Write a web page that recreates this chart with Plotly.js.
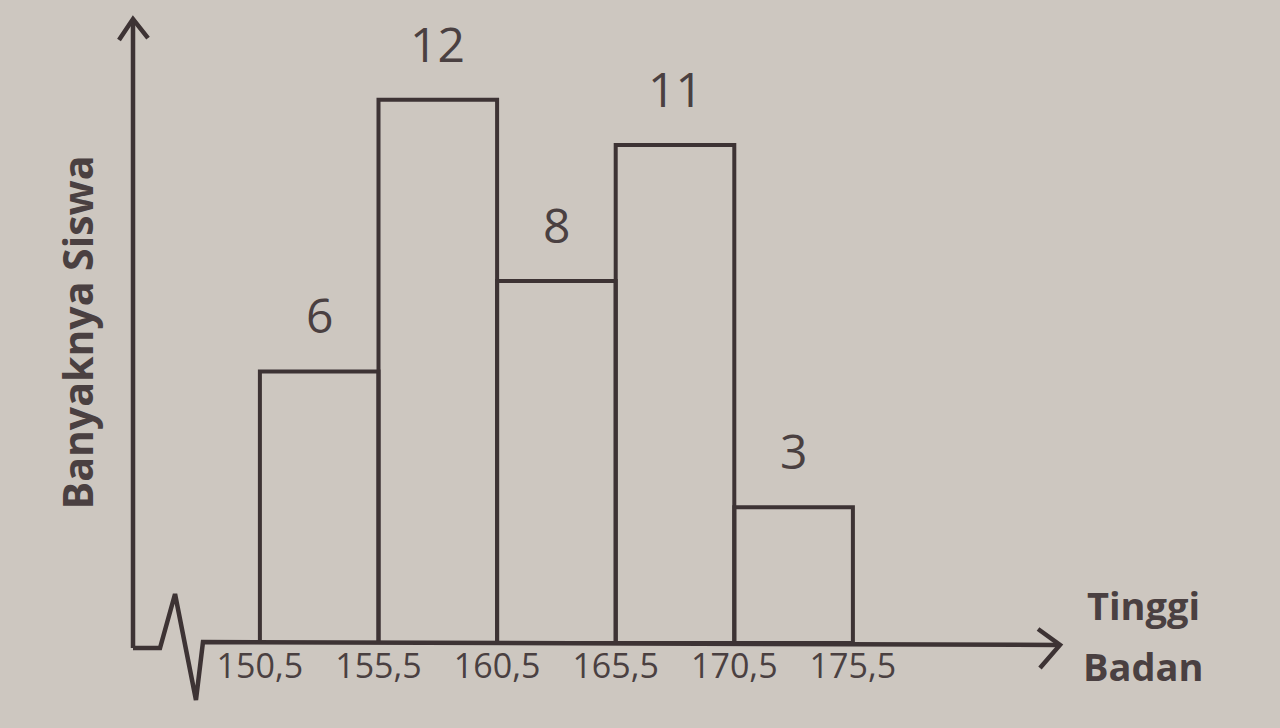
<!DOCTYPE html>
<html>
<head>
<meta charset="utf-8">
<script src="https://cdn.plot.ly/plotly-3.0.1.min.js"></script>
<style>
  html, body { margin: 0; padding: 0; background: #cdc7c0; }
  #chart { width: 1280px; height: 728px; }
</style>
</head>
<body>
<div id="chart"></div>
<script>
// ---- data ----
const classEdges = [150.5, 155.5, 160.5, 165.5, 170.5, 175.5];
const studentCounts = [6, 12, 8, 11, 3];
const tickLabels = ["150,5", "155,5", "160,5", "165,5", "170,5", "175,5"];
const yTitle = "Banyaknya Siswa";
const xTitleLines = ["Tinggi", "Badan"];

// ---- derived ----
const mids = studentCounts.map((_, i) => (classEdges[i] + classEdges[i + 1]) / 2);
const widths = studentCounts.map((_, i) => classEdges[i + 1] - classEdges[i]);

const ink = "#3d3334";
const textInk = "#4a4041";
const bg = "#cdc7c0";
const font = "Open Sans, Noto Sans, sans-serif";

// pixel -> paper helpers for the decorative axis drawing
const L = 133, R = 1055, T = 22, B = 643;
const px = x => (x - L) / (R - L);
const py = y => (B - y) / (B - T);
const pt = (x, y) => px(x).toFixed(4) + "," + py(y).toFixed(4);

const trace = {
  type: "bar",
  x: mids,
  y: studentCounts,
  width: widths,
  marker: { color: "rgba(0,0,0,0)", line: { color: ink, width: 4 } },
  hoverinfo: "x+y",
  showlegend: false
};

const annotations = studentCounts.map((c, i) => ({
  x: mids[i], y: c, xref: "x", yref: "y",
  text: String(c), showarrow: false,
  yanchor: "bottom", yshift: 22,
  font: { family: font, size: 48, color: textInk }
}));

annotations.push({
  xref: "paper", yref: "paper", x: px(1143), y: py(605),
  text: xTitleLines[0], showarrow: false, xanchor: "center", yanchor: "middle",
  font: { family: font, size: 38, color: textInk, weight: 700 }
});
annotations.push({
  xref: "paper", yref: "paper", x: px(1143), y: py(666),
  text: xTitleLines[1], showarrow: false, xanchor: "center", yanchor: "middle",
  font: { family: font, size: 38, color: textInk, weight: 700 }
});

const lineStyle = { color: ink, width: 4.5 };
const shapes = [
  // y axis
  { type: "path", xref: "paper", yref: "paper", path: "M" + pt(133, 648) + " L" + pt(133, 20), line: lineStyle },
  // y arrow head
  { type: "path", xref: "paper", yref: "paper", path: "M" + pt(119, 40) + " L" + pt(133, 19) + " L" + pt(148, 38), line: lineStyle },
  // bottom with break zigzag and x axis
  { type: "path", xref: "paper", yref: "paper",
    path: "M" + pt(133, 648) + " L" + pt(160, 648) + " L" + pt(175, 594) + " L" + pt(196, 700) + " L" + pt(203, 642) + " L" + pt(1058, 645),
    line: lineStyle },
  // x arrow head
  { type: "path", xref: "paper", yref: "paper", path: "M" + pt(1038, 629) + " L" + pt(1060, 645) + " L" + pt(1040, 668), line: lineStyle }
];

const layout = {
  width: 1280, height: 728,
  paper_bgcolor: bg, plot_bgcolor: bg,
  margin: { l: L, r: 1280 - R, t: T, b: 728 - B, pad: 0 },
  showlegend: false,
  xaxis: {
    range: [145.15, 184.02],
    tickvals: classEdges, ticktext: tickLabels,
    ticks: "", showgrid: false, zeroline: false, showline: false,
    tickfont: { family: font, size: 34, color: textInk },
    automargin: false
  },
  yaxis: {
    range: [0, 13.72],
    showticklabels: false, showgrid: false, zeroline: false, showline: false, ticks: "",
    title: { text: yTitle, standoff: 25, font: { family: font, size: 41, color: textInk, weight: 700 } },
    automargin: false
  },
  annotations: annotations,
  shapes: shapes
};

Plotly.newPlot("chart", [trace], layout, { displayModeBar: false, staticPlot: true });
</script>
</body>
</html>
